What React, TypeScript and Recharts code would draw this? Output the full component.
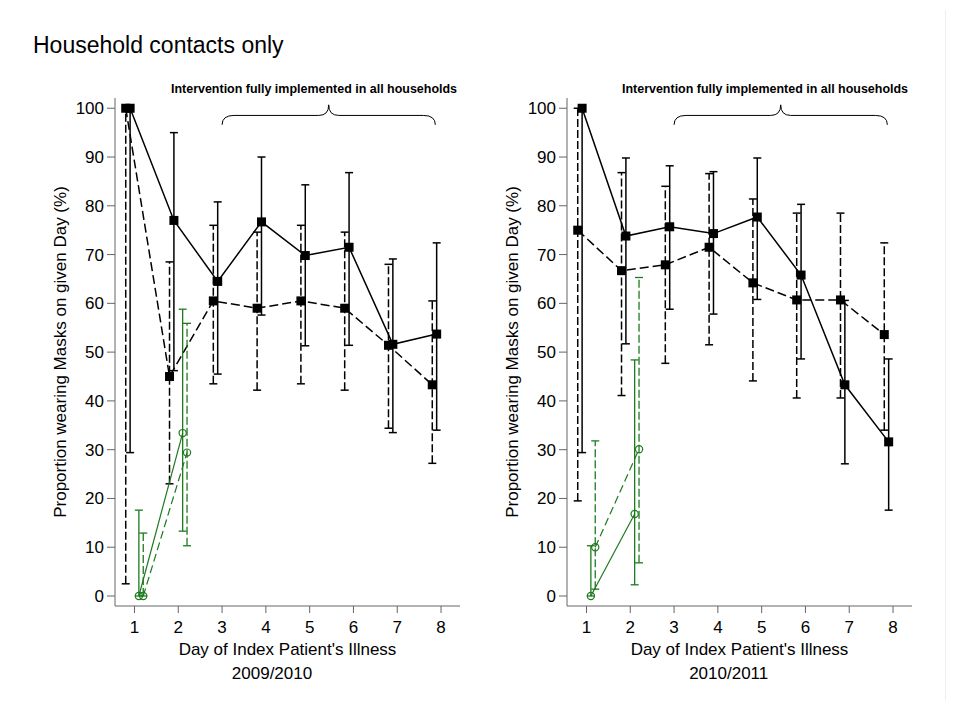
import React from 'react';
import { ComposedChart, Line, XAxis, YAxis, ErrorBar, ReferenceArea, Label } from 'recharts';

const FONT = "'Liberation Sans', Arial, Helvetica, sans-serif";
const GREEN = '#1d7a1d';
const AXIS = '#666666';

const days = [1, 2, 3, 4, 5, 6, 7, 8];
const greenDays = [1, 2];
const xTicks = [1, 2, 3, 4, 5, 6, 7, 8];
const yTicks = [0, 10, 20, 30, 40, 50, 60, 70, 80, 90, 100];

// 2009/2010
const a09DashMean = [100, 45, 60.5, 59, 60.5, 59, 51.4, 43.3];
const a09DashLow = [2.5, 23, 43.5, 42.2, 43.5, 42.2, 34.4, 27.2];
const a09DashHigh = [100, 68.5, 76, 74.6, 76, 74.6, 68, 60.5];
const a09SolidMean = [100, 77, 64.5, 76.7, 69.8, 71.5, 51.6, 53.7];
const a09SolidLow = [29.4, 46.2, 45.5, 57.6, 51.3, 51.4, 33.5, 34];
const a09SolidHigh = [100, 95, 80.8, 90, 84.3, 86.8, 69.1, 72.4];
const g09SolidMean = [0, 33.4];
const g09SolidLow = [0, 13.3];
const g09SolidHigh = [17.6, 58.8];
const g09DashMean = [0, 29.4];
const g09DashLow = [0, 10.3];
const g09DashHigh = [12.9, 55.9];

// 2010/2011
const a10DashMean = [75, 66.7, 67.9, 71.5, 64.2, 60.7, 60.7, 53.6];
const a10DashLow = [19.5, 41.1, 47.7, 51.5, 44.1, 40.6, 40.6, 34];
const a10DashHigh = [100, 86.8, 84, 86.6, 81.4, 78.5, 78.5, 72.4];
const a10SolidMean = [100, 73.8, 75.7, 74.3, 77.7, 65.8, 43.3, 31.6];
const a10SolidLow = [29.4, 51.7, 58.8, 57.8, 60.8, 48.6, 27.1, 17.6];
const a10SolidHigh = [100, 89.8, 88.2, 87, 89.8, 80.3, 60.6, 48.6];
const g10SolidMean = [0, 16.8];
const g10SolidLow = [0, 2.3];
const g10SolidHigh = [10.3, 48.4];
const g10DashMean = [10, 30.1];
const g10DashLow = [1.4, 6.8];
const g10DashHigh = [31.8, 65.3];

// jitter of each series around the day
const OFF_DASH = -0.2;
const OFF_SOLID = -0.1;
const OFF_GSOLID = 0.1;
const OFF_GDASH = 0.2;

function build(dayList: number[], mean: number[], lo: number[], hi: number[], off: number) {
  return dayList.map((d, i) => ({
    x: d + off,
    y: mean[i],
    err: [mean[i] - lo[i], hi[i] - mean[i]],
  }));
}

const squareDot = (p: any) => (
  <rect key={`sq${p.index}`} x={p.cx - 4.5} y={p.cy - 4.5} width={9} height={9} fill="#000" />
);
const circleDot = (p: any) => (
  <circle key={`ci${p.index}`} cx={p.cx} cy={p.cy} r={3.6} fill="none" stroke={GREEN} strokeWidth={1.2} />
);

const Brace = (props: any) => {
  const { x, y, width, height } = props;
  const x2 = x + width;
  const cx = x + width / 2;
  const bottom = y + height;
  const mid = y + height * 0.53;
  const top = y;
  const r = 12;
  const t = 10;
  const d = `M${x},${bottom} Q${x},${mid} ${x + r},${mid} L${cx - t},${mid} Q${cx},${mid} ${cx},${top} Q${cx},${mid} ${cx + t},${mid} L${x2 - r},${mid} Q${x2},${mid} ${x2},${bottom}`;
  return <path d={d} fill="none" stroke="#000" strokeWidth={1} />;
};

type PanelProps = {
  dash: any[];
  solid: any[];
  gSolid: any[];
  gDash: any[];
};

function Panel({ dash, solid, gSolid, gDash }: PanelProps) {
  return (
    <ComposedChart width={480} height={720} margin={{ top: 98, right: 20, bottom: 0, left: 0 }}>
      <XAxis
        type="number"
        dataKey="x"
        domain={[0.555, 8.433]}
        allowDataOverflow
        ticks={xTicks}
        interval={0}
        height={114}
        stroke={AXIS}
        tickSize={7}
        tickMargin={8}
        tick={{ fontSize: 17, fill: '#000', fontFamily: FONT }}
      >
        <Label
          value="Day of Index Patient's Illness"
          position="insideBottom"
          offset={65}
          style={{ fontSize: 17, fill: '#000', fontFamily: FONT }}
        />
      </XAxis>
      <YAxis
        type="number"
        domain={[-2.05, 102.1]}
        allowDataOverflow
        ticks={yTicks}
        interval={0}
        width={115}
        stroke={AXIS}
        tickSize={8}
        tickMargin={3}
        tick={{ fontSize: 17, fill: '#000', fontFamily: FONT }}
      >
        <Label
          value="Proportion wearing Masks on given Day (%)"
          position="center"
          angle={-90}
          dx={2}
          style={{ fontSize: 17, fill: '#000', fontFamily: FONT, textAnchor: 'middle' }}
        />
      </YAxis>
      <ReferenceArea x1={3} x2={7.87} y1={96.6} y2={100.7} shape={Brace} ifOverflow="visible" />
      <Line
        data={dash}
        dataKey="y"
        type="linear"
        stroke="#000"
        strokeWidth={1.5}
        strokeDasharray="9 4"
        dot={squareDot}
        activeDot={false}
        legendType="none"
        isAnimationActive={false}
      >
        <ErrorBar dataKey="err" direction="y" width={4} stroke="#000" strokeWidth={1.5} strokeDasharray="8 3" isAnimationActive={false} />
      </Line>
      <Line
        data={solid}
        dataKey="y"
        type="linear"
        stroke="#000"
        strokeWidth={1.5}
        dot={squareDot}
        activeDot={false}
        legendType="none"
        isAnimationActive={false}
      >
        <ErrorBar dataKey="err" direction="y" width={4} stroke="#000" strokeWidth={1.5} isAnimationActive={false} />
      </Line>
      <Line
        data={gSolid}
        dataKey="y"
        type="linear"
        stroke={GREEN}
        strokeWidth={1.2}
        dot={circleDot}
        activeDot={false}
        legendType="none"
        isAnimationActive={false}
      >
        <ErrorBar dataKey="err" direction="y" width={4} stroke={GREEN} strokeWidth={1.3} isAnimationActive={false} />
      </Line>
      <Line
        data={gDash}
        dataKey="y"
        type="linear"
        stroke={GREEN}
        strokeWidth={1.2}
        strokeDasharray="8 4"
        dot={circleDot}
        activeDot={false}
        legendType="none"
        isAnimationActive={false}
      >
        <ErrorBar dataKey="err" direction="y" width={4} stroke={GREEN} strokeWidth={1.3} strokeDasharray="8 3" isAnimationActive={false} />
      </Line>
    </ComposedChart>
  );
}

export default function App() {
  const left = {
    dash: build(days, a09DashMean, a09DashLow, a09DashHigh, OFF_DASH),
    solid: build(days, a09SolidMean, a09SolidLow, a09SolidHigh, OFF_SOLID),
    gSolid: build(greenDays, g09SolidMean, g09SolidLow, g09SolidHigh, OFF_GSOLID),
    gDash: build(greenDays, g09DashMean, g09DashLow, g09DashHigh, OFF_GDASH),
  };
  const right = {
    dash: build(days, a10DashMean, a10DashLow, a10DashHigh, OFF_DASH),
    solid: build(days, a10SolidMean, a10SolidLow, a10SolidHigh, OFF_SOLID),
    gSolid: build(greenDays, g10SolidMean, g10SolidLow, g10SolidHigh, OFF_GSOLID),
    gDash: build(greenDays, g10DashMean, g10DashLow, g10DashHigh, OFF_GDASH),
  };
  return (
    <div style={{ position: 'absolute', left: 0, top: 0, width: 960, height: 720, background: '#fff', fontFamily: FONT }}>
      <div style={{ position: 'absolute', left: 0, top: 0 }}>
        <Panel {...left} />
      </div>
      <div style={{ position: 'absolute', left: 452, top: 0 }}>
        <Panel {...right} />
      </div>
      <div style={{ position: 'absolute', left: 945, top: 10, width: 1, height: 690, background: '#eeeeee' }} />
      <svg width={960} height={720} style={{ position: 'absolute', left: 0, top: 0, pointerEvents: 'none' }}>
        <text x={33} y={52.5} fontSize={23} fontFamily={FONT} fill="#000">Household contacts only</text>
        <text x={171} y={92.5} fontSize={12.5} fontWeight="bold" fontFamily={FONT} fill="#000" textLength={286} lengthAdjust="spacingAndGlyphs">
          Intervention fully implemented in all households
        </text>
        <text x={622} y={92.5} fontSize={12.5} fontWeight="bold" fontFamily={FONT} fill="#000" textLength={286} lengthAdjust="spacingAndGlyphs">
          Intervention fully implemented in all households
        </text>
        <text x={272} y={679} fontSize={17} fontFamily={FONT} fill="#000" textAnchor="middle">2009/2010</text>
        <text x={728.7} y={679} fontSize={17} fontFamily={FONT} fill="#000" textAnchor="middle">2010/2011</text>
      </svg>
    </div>
  );
}
